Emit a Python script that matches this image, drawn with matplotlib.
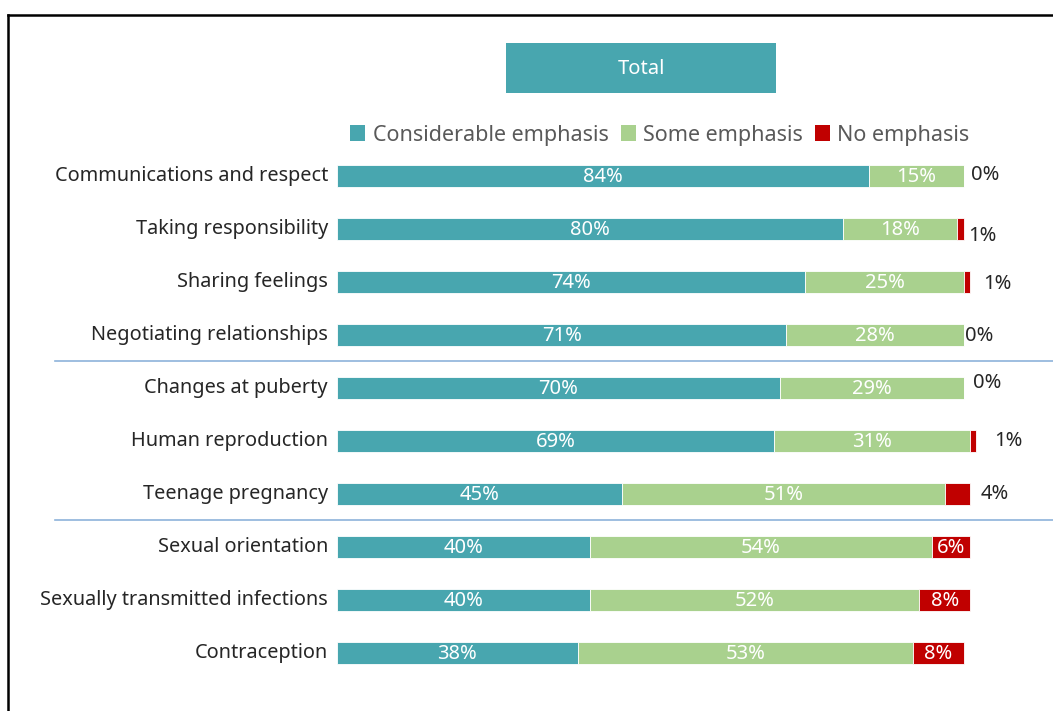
import matplotlib

matplotlib.use("Agg")

import matplotlib.pyplot as plt
from matplotlib.lines import Line2D
from matplotlib.patches import Patch, Rectangle

topics = [
    "Communications and respect",
    "Taking responsibility",
    "Sharing feelings",
    "Negotiating relationships",
    "Changes at puberty",
    "Human reproduction",
    "Teenage pregnancy",
    "Sexual orientation",
    "Sexually transmitted infections",
    "Contraception",
]
considerable = [84, 80, 74, 71, 70, 69, 45, 40, 40, 38]
some = [15, 18, 25, 28, 29, 31, 51, 54, 52, 53]
none = [0, 1, 1, 0, 0, 1, 4, 6, 8, 8]
series_names = ["Considerable emphasis", "Some emphasis", "No emphasis"]

TEAL = "#48A6AF"
GREEN = "#A9D18E"
RED = "#C00000"
W, H = 1053, 711

# hand-placed nudges (px, right / down) for the small labels right of the bars
nudge_x = [3, 0, 9, -3, 5, 14, 7, 0, 0, 0]
nudge_y = [-1, 7, 2, 1, -5, 0, 0, 0, 0, 0]

plt.rcParams["font.family"] = ["Noto Sans", "DejaVu Sans"]

fig = plt.figure(figsize=(W / 100, H / 100), dpi=100)


def fx(px):
    return px / W


def fy(py):
    return 1 - py / H


# bar area: x 0..105 -> px 337..1001.65 (6.33 px per %), ten rows of 53 px from y=149.5
XMAX = 105
ax = fig.add_axes([fx(337), fy(679.5), 6.33 * XMAX / W, (679.5 - 149.5) / H])
ax.set_xlim(0, XMAX)
ax.set_ylim(len(topics) - 0.5, -0.5)
ax.axis("off")

y = range(len(topics))
left2 = [a + b for a, b in zip(considerable, some)]
h = 0.40
ax.barh(y, considerable, height=h, color=TEAL, edgecolor="white", linewidth=0.6)
ax.barh(y, some, left=considerable, height=h, color=GREEN, edgecolor="white", linewidth=0.6)
ax.barh(y, none, left=left2, height=h, color=RED, edgecolor="white", linewidth=0.6)

for i in y:
    ax.annotate(f"{considerable[i]}%", (considerable[i] / 2, i), xytext=(0, -1),
                textcoords="offset pixels", color="white", ha="center", va="center",
                fontsize=14.5)
    ax.annotate(f"{some[i]}%", (considerable[i] + some[i] / 2, i), xytext=(0, -1),
                textcoords="offset pixels", color="white", ha="center", va="center",
                fontsize=14.5)
    end = left2[i] + none[i]
    if none[i] >= 5:
        ax.annotate(f"{none[i]}%", (left2[i] + none[i] / 2, i), xytext=(0, -1),
                    textcoords="offset pixels", color="white", ha="center",
                    va="center", fontsize=14.5)
    else:
        ax.annotate(f"{none[i]}%", (end, i), xytext=(4 + nudge_x[i], -nudge_y[i]),
                    textcoords="offset pixels", ha="left", va="center",
                    fontsize=14.5, color="#262626", annotation_clip=False)
    ax.annotate(topics[i], (0, i), xytext=(-9, 0), textcoords="offset pixels",
                ha="right", va="center", fontsize=14.3, color="#262626",
                annotation_clip=False)

# group separators
x0 = (55 - 337) / (6.33 * XMAX)
x1 = (W - 337) / (6.33 * XMAX)
for yy in (3.5, 6.5):
    ax.axhline(yy, xmin=x0, xmax=x1, color="#8DB3DA", linewidth=1.2, clip_on=False)

# outer frame (left and top edges)
fig.add_artist(Line2D([fx(8), fx(8)], [fy(15), 0], transform=fig.transFigure,
                      color="black", linewidth=1.8))
fig.add_artist(Line2D([fx(8), 1], [fy(15), fy(15)], transform=fig.transFigure,
                      color="black", linewidth=1.8))

# title box
fig.add_artist(Rectangle((fx(506), fy(93)), fx(776) - fx(506), (93 - 43) / H,
                         transform=fig.transFigure, facecolor=TEAL, edgecolor="none"))
fig.text(fx(641), fy(69), "Total", color="white", ha="center", va="center", fontsize=14.5)

handles = [Patch(facecolor=c, edgecolor="none") for c in (TEAL, GREEN, RED)]
fig.legend(handles, series_names, loc="center", bbox_to_anchor=(fx(660), fy(135)),
           ncol=3, frameon=False, fontsize=15.5, labelcolor="#595959",
           handlelength=0.7, handleheight=0.7, handletextpad=0.35, columnspacing=0.55)

fig.savefig("out.png", dpi=100)
